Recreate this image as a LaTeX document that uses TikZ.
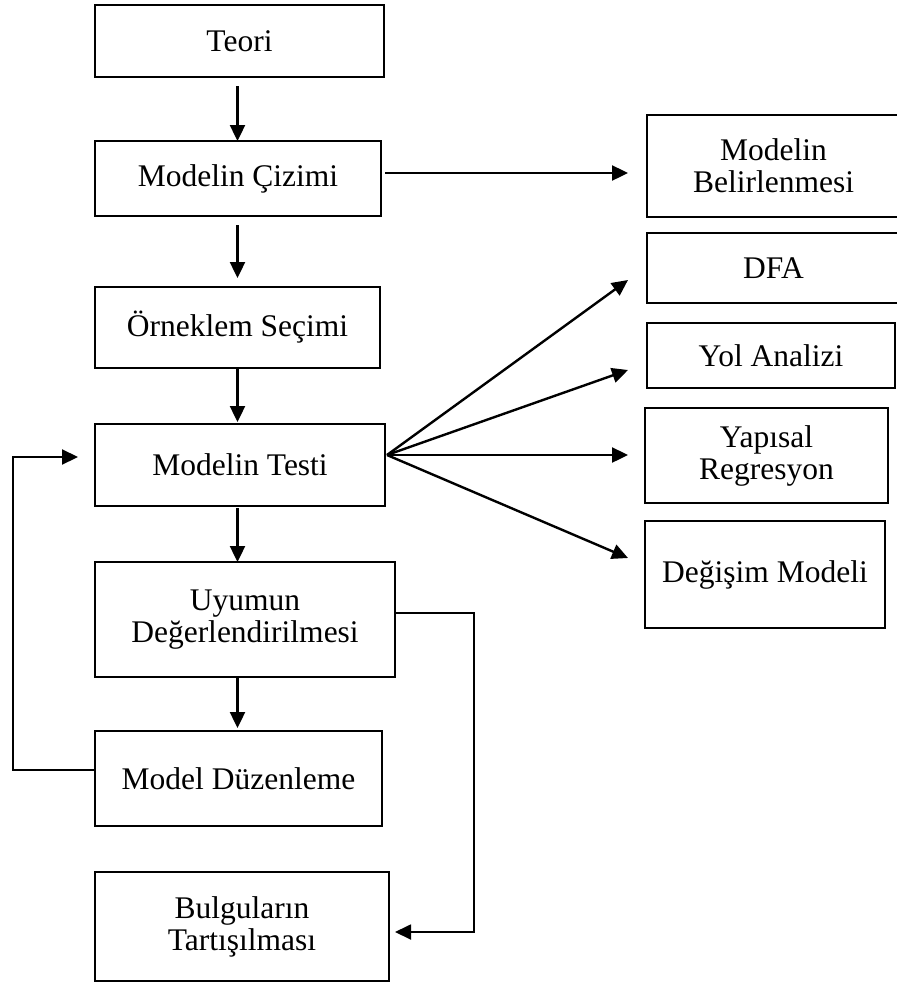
\documentclass[tikz,border=0pt]{standalone}
\usepackage{fontspec}
\setmainfont{Liberation Serif}
\usetikzlibrary{arrows.meta,calc}
\begin{document}
\begin{tikzpicture}[x=1pt,y=-1pt,
  box/.style={draw, line width=2.9pt, rectangle, inner sep=0pt, outer sep=0pt,
    align=center, font=\fontsize{31.5}{32}\selectfont},
  arr/.style={line width=2.4pt, -{Triangle[length=16pt,width=15pt]}},
  loopline/.style={line width=2.2pt, -{Triangle[length=16pt,width=15pt]}},
  sideline/.style={line width=1.8pt, -{Triangle[length=16pt,width=15pt]}}]
\useasboundingbox (0,0) rectangle (897,983);
\clip (0,0) rectangle (897,983);

% main column
\node[box, minimum width=289pt, minimum height=72pt]  (teori)  at (239.5,41)    {Teori};
\node[box, minimum width=286pt, minimum height=75pt]  (cizim)  at (238,178.5)   {Modelin Çizimi};
\node[box, minimum width=285pt, minimum height=81pt]  (ornek)  at (237.5,327.5) {Örneklem Seçimi};
\node[box, minimum width=290pt, minimum height=82pt]  (test)   at (240,465)     {Modelin Testi};
\node[box, minimum width=300pt, minimum height=115pt] (uyum)   at (245,619.5)   {Uyumun\\Değerlendirilmesi};
\node[box, minimum width=287pt, minimum height=95pt]  (duz)    at (238.5,778.5) {Model Düzenleme};
\node[box, minimum width=294pt, minimum height=109pt] (bulgu)  at (242,926.5)   {Bulguların\\Tartışılması};

% right column
\node[box, minimum width=253pt, minimum height=102pt] (belir)  at (773.5,166)   {Modelin\\Belirlenmesi};
\node[box, minimum width=253pt, minimum height=70pt]  (dfa)    at (773.5,268)   {DFA};
\node[box, minimum width=248pt, minimum height=65pt]  (yol)    at (771,355.5)   {Yol Analizi};
\node[box, minimum width=243pt, minimum height=95pt]  (yap)    at (766.5,455.5) {Yapısal\\Regresyon};
\node[box, minimum width=240pt, minimum height=107pt] (degis)  at (765,574.5)   {Değişim Modeli};

% vertical flow
\coordinate (col) at (237.5,0);
\draw[arr, shorten <=9pt]  (teori.south -| col) -- (cizim.north -| col);
\draw[arr, shorten <=9pt, shorten >=9pt] (cizim.south -| col) -- (ornek.north -| col);
\draw[arr, shorten >=2pt]  (ornek.south -| col) -- (test.north -| col);
\draw[arr, shorten <=2pt]  (test.south -| col)  -- (uyum.north -| col);
\draw[arr, shorten >=3pt]  (uyum.south -| col)  -- (duz.north -| col);

% to the right column
\draw[arr, shorten <=4pt] ($(cizim.east)+(0,-5.5)$) -- ($(belir.west)+(-19,7)$);
\coordinate (fan) at (387,455);
\draw[arr] (fan) -- ($(dfa.west)+(-19,12)$);
\draw[arr] (fan) -- ($(yol.west)+(-19,14.5)$);
\draw[arr] (fan) -- ($(yap.west)+(-17,-0.5)$);
\draw[arr] (fan) -- ($(degis.west)+(-17,-16.5)$);

% revision loop back to the test
\coordinate (lp) at (13,457);
\draw[loopline] ($(duz.west)+(0,-8.5)$) -| (lp) -- ($(test.west)+(-17,-8)$);

% fit accepted: go to the findings
\draw[sideline] ($(uyum.east)+(0,-6.5)$) -| ($(bulgu.east)+(85,5.5)$) -- ($(bulgu.east)+(6,5.5)$);
\end{tikzpicture}
\end{document}
